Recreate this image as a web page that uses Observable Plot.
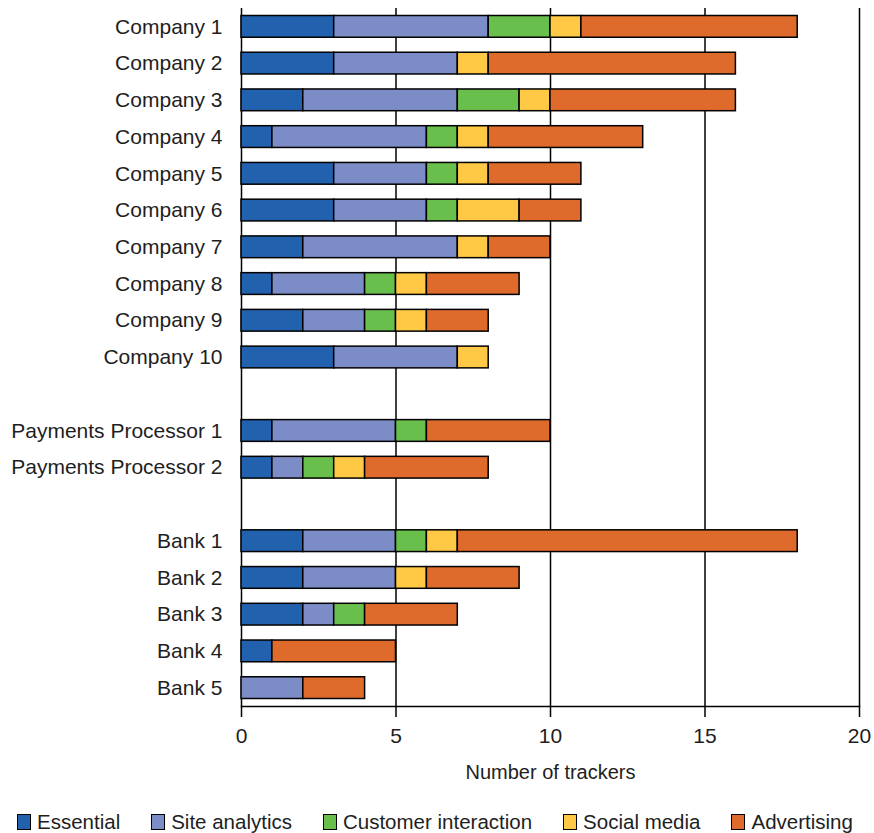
<!DOCTYPE html>
<html>
<head>
<meta charset="utf-8">
<script src="https://cdn.jsdelivr.net/npm/d3@7"></script>
<script src="https://cdn.jsdelivr.net/npm/@observablehq/plot@0.6"></script>
<style>
  html, body { margin: 0; padding: 0; background: #fff; }
  body { width: 874px; font-family: "Liberation Sans", Arial, sans-serif; }
  #legend { display: flex; align-items: center; height: 33px; padding-left: 17px; gap: 31px; font-size: 20.5px; color: #1e1e1e; margin-top: 9px; }
  #legend .item { display: flex; align-items: center; gap: 6px; }
  #legend .sw { width: 14px; height: 16px; border: 1.5px solid #000; box-sizing: border-box; }
</style>
</head>
<body>
<div id="chart"></div>
<div id="legend"></div>
<script>
const categories = ["Company 1","Company 2","Company 3","Company 4","Company 5","Company 6","Company 7","Company 8","Company 9","Company 10"," ","Payments Processor 1","Payments Processor 2","  ","Bank 1","Bank 2","Bank 3","Bank 4","Bank 5"];
const seriesNames = ["Essential","Site analytics","Customer interaction","Social media","Advertising"];
const seriesColors = ["#2261ad","#7b8cc7","#69bf4b","#ffc845","#de6a2c"];
const essential     = [3,3,2,1,3,3,2,1,2,3,null,1,1,null,2,2,2,1,0];
const siteAnalytics = [5,4,5,5,3,3,5,3,2,4,null,4,1,null,3,3,1,0,2];
const customer      = [2,0,2,1,1,1,0,1,1,0,null,1,1,null,1,0,1,0,0];
const social        = [1,1,1,1,1,2,1,1,1,1,null,0,1,null,1,1,0,0,0];
const advertising   = [7,8,6,5,3,2,2,3,2,0,null,4,4,null,11,3,3,4,2];
const xTicks = [0,5,10,15,20];

const seriesValues = [essential, siteAnalytics, customer, social, advertising];
const data = [];
categories.forEach((c, i) => {
  seriesValues.forEach((vals, s) => {
    if (vals[i]) data.push({category: c, series: seriesNames[s], order: s, value: vals[i]});
  });
});

const chart = Plot.plot({
  width: 874,
  height: 796,
  marginLeft: 241,
  marginRight: 15,
  marginTop: 8,
  marginBottom: 90,
  style: {fontFamily: "Liberation Sans, Arial, sans-serif", fontSize: "21px", color: "#1e1e1e"},
  x: {domain: [0, 20]},
  y: {domain: categories, padding: 0, round: false, label: null},
  color: {domain: seriesNames, range: seriesColors},
  marks: [
    Plot.ruleX(xTicks, {stroke: "#000", strokeWidth: 1.5}),
    Plot.barX(data, Plot.stackX({
      x: "value", y: "category", fill: "series", order: "order",
      stroke: "#000", strokeWidth: 1.5, insetTop: 7.5, insetBottom: 7.5
    })),
    Plot.axisY({tickSize: 0, tickPadding: 19, fontSize: 21, fill: "#1e1e1e", label: null, tickFormat: d => d.trim()}),
    Plot.axisX({ticks: xTicks, tickSize: 11, tickPadding: 11, fontSize: 21, fill: "#1e1e1e", stroke: "#000", strokeWidth: 1.5, label: null}),
    Plot.text(["Number of trackers"], {frameAnchor: "bottom", dy: 72, fontSize: 20, fill: "#1e1e1e"}),
    Plot.frame({anchor: "bottom", stroke: "#000", strokeWidth: 1.5})
  ]
});
document.getElementById("chart").appendChild(chart);

const legend = document.getElementById("legend");
seriesNames.forEach((n, i) => {
  const item = document.createElement("div");
  item.className = "item";
  const sw = document.createElement("span");
  sw.className = "sw";
  sw.style.background = seriesColors[i];
  const t = document.createElement("span");
  t.textContent = n;
  item.appendChild(sw); item.appendChild(t);
  legend.appendChild(item);
});
</script>
</body>
</html>
